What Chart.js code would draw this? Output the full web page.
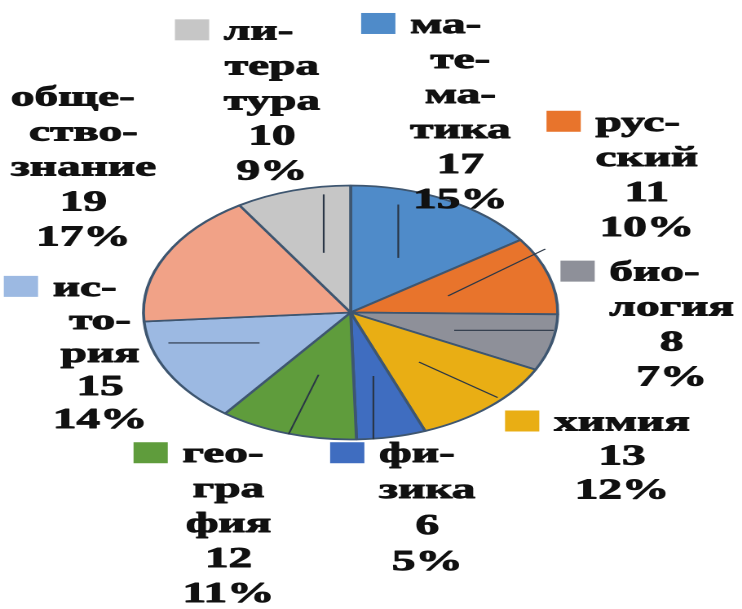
<!DOCTYPE html>
<html><head><meta charset="utf-8">
<script src="https://cdn.jsdelivr.net/npm/chart.js@4/dist/chart.umd.min.js"></script>
<style>
html,body{margin:0;padding:0;background:#fff;overflow:hidden;width:742px;height:609px;}
#wrap{position:absolute;left:0;top:0;width:455px;height:609px;transform-origin:0 0;transform:scaleX(1.6308);}
</style></head><body>
<div id="wrap"><canvas id="c"></canvas></div>
<script>
// ---- data ----
const categories = ["математика","русский","биология","химия","физика","география","история","обществознание","литература"];
const values = [17, 11, 8, 13, 6, 12, 15, 19, 10];
const labelLines = [
  ["ма-","те-","ма-","тика"],
  ["рус-","ский"],
  ["био-","логия"],
  ["химия"],
  ["фи-","зика"],
  ["гео-","гра","фия"],
  ["ис-","то-","рия"],
  ["обще-","ство-","знание"],
  ["ли-","тера","тура"]
];
const colors = ["#4F8BC9","#E8742C","#8E9099","#E9AE14","#3F6DC0","#5F9C3C","#9CB9E2","#F1A287","#C6C6C6"];

// ---- layout (in pie-radius units, relative to pie centre) ----
const labelAnchors = [
  [0.53,-2.26],[1.43,-1.49],[1.55,-0.31],[1.31,0.87],[0.37,1.12],
  [-0.59,1.12],[-1.21,-0.19],[-1.29,-1.69],[-0.38,-2.21]
];
const labelLineHeights = [35,35,35,34,36,35,33,35,35];
const leaderLines = [
  [0.23,-0.85,0.23,-0.43],
  [0.47,-0.13,0.94,-0.50],
  [0.50,0.14,0.98,0.14],
  [0.33,0.39,0.71,0.67],
  [0.11,0.50,0.11,1.0],
  [-0.155,0.49,-0.30,0.96],
  [-0.88,0.24,-0.44,0.24],
  null,
  [-0.13,-0.93,-0.13,-0.47]
];

const total = values.reduce((a,b)=>a+b,0);

const labelPlugin = {
  id: 'excelLabels',
  afterDatasetsDraw(chart) {
    const ctx = chart.ctx;
    const meta = chart.getDatasetMeta(0);
    const a0 = meta.data[0];
    const cx = a0.x, cy = a0.y, R = a0.outerRadius;
    ctx.save();
    // leader lines
    ctx.strokeStyle = '#2a3646';
    ctx.lineWidth = 1.1;
    leaderLines.forEach(l => {
      if (!l) return;
      ctx.beginPath();
      ctx.moveTo(cx + l[0]*R, cy + l[1]*R);
      ctx.lineTo(cx + l[2]*R, cy + l[3]*R);
      ctx.stroke();
    });
    // labels
    const keySize = 21;
    const gap = 9;
    ctx.font = 'bold 29px "Liberation Serif", "DejaVu Serif", serif';
    ctx.textBaseline = 'middle';
    ctx.lineJoin = 'round';
    categories.forEach((cat, i) => {
      const pct = Math.round(values[i] / total * 100) + '%';
      const lines = labelLines[i].concat([String(values[i]), pct]);
      const lineH = labelLineHeights[i];
      const maxW = Math.max(...lines.map(t => ctx.measureText(t).width));
      const bx = cx + labelAnchors[i][0]*R;
      const by = cy + labelAnchors[i][1]*R;
      const left = bx - maxW/2;
      // key
      ctx.fillStyle = colors[i];
      ctx.fillRect(left - gap - keySize, by - keySize/2 - 2, keySize, keySize);
      ctx.fillStyle = '#111';
      ctx.strokeStyle = '#111';
      ctx.lineWidth = 0.9;
      lines.forEach((t, k) => {
        let x = bx;
        if (k === 0) { ctx.textAlign = 'left'; x = left; }
        else { ctx.textAlign = 'center'; }
        const y = by + k*lineH;
        ctx.fillText(t, x, y);
        ctx.strokeText(t, x, y);
      });
    });
    ctx.restore();
  }
};

new Chart(document.getElementById('c'), {
  type: 'pie',
  data: {
    labels: categories,
    datasets: [{
      data: values,
      backgroundColor: colors,
      borderColor: '#3e5670',
      borderWidth: 1.8,
      radius: 127
    }]
  },
  options: {
    responsive: true,
    maintainAspectRatio: false,
    devicePixelRatio: 2,
    animation: false,
    layout: { padding: { left: 88, right: 113, top: 186, bottom: 170 } },
    plugins: { legend: { display: false }, tooltip: { enabled: false } }
  },
  plugins: [labelPlugin]
});
</script>
</body></html>
